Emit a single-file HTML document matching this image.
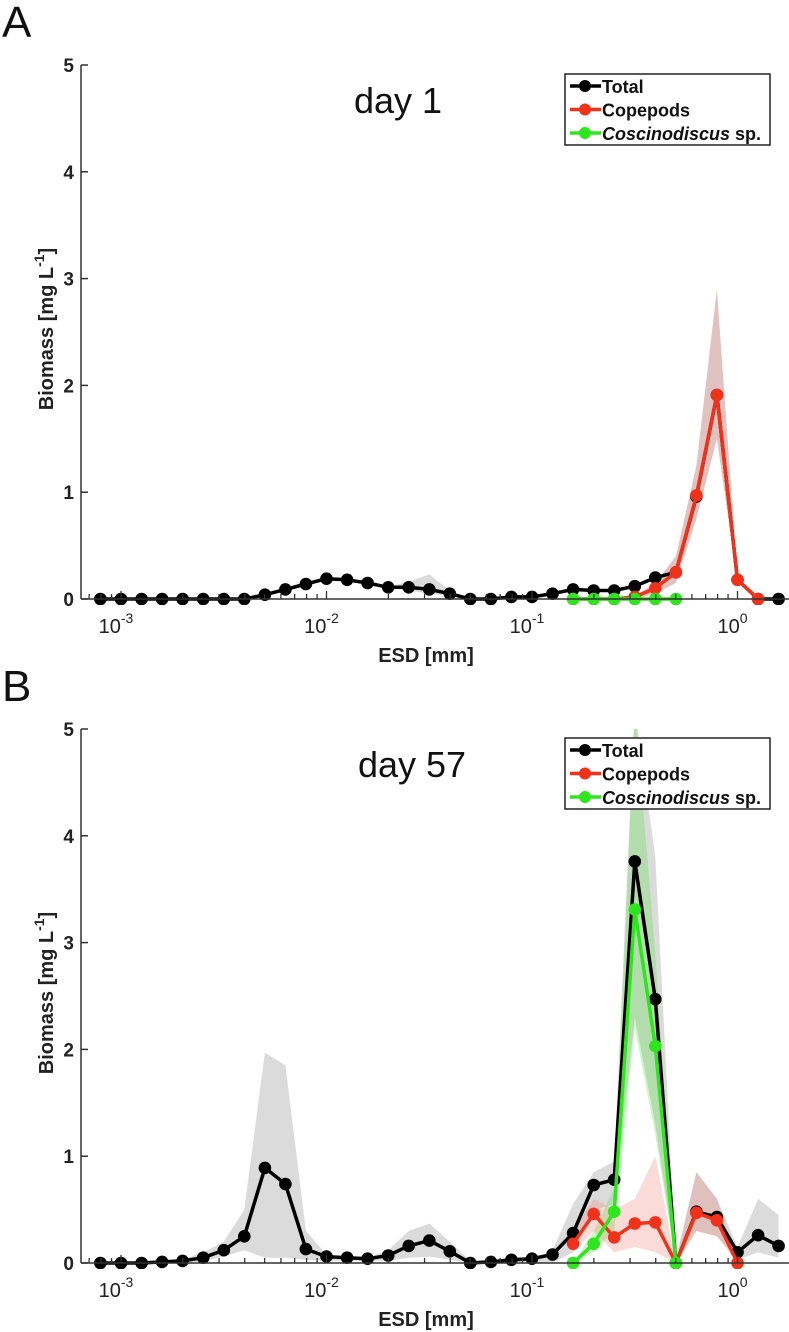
<!DOCTYPE html>
<html><head><meta charset="utf-8">
<style>
html,body{margin:0;padding:0;background:#fff;}
svg{display:block;font-family:"Liberation Sans",Arial,sans-serif;}
</style></head>
<body>
<svg id="fig" width="789" height="1332" viewBox="0 0 789 1332" xmlns="http://www.w3.org/2000/svg">
<defs>
<clipPath id="clipA"><rect x="81" y="60" width="708" height="545"/></clipPath>
<clipPath id="clipB"><rect x="81" y="729" width="708" height="540"/></clipPath>
</defs>
</svg>
<script>
// ---- data ----
const logESD = [];
for (let i = 0; i < 34; i++) logESD.push(-3.1 + 0.1 * i);
const yTicks = [0, 1, 2, 3, 4, 5];
const xTickExps = [-3, -2, -1, 0];
const _ = null;
// Panel A (day 1)
const totalA = [0,0,0,0,0,0,0,0,0.04,0.09,0.14,0.19,0.18,0.15,0.11,0.11,0.09,0.05,0,0,0.02,0.02,0.05,0.09,0.08,0.08,0.12,0.2,0.25,0.96,1.91,0.18,0,0];
const copeA = [_,_,_,_,_,_,_,_,_,_,_,_,_,_,_,_,_,_,_,_,_,_,_,0,0,0,0.02,0.1,0.25,0.97,1.91,0.18,0,_];
const coscA = [_,_,_,_,_,_,_,_,_,_,_,_,_,_,_,_,_,_,_,_,_,_,_,0,0,0,0,0,0,_,_,_,_,_];
const grayHiA = [_,_,_,_,_,_,_,_,_,_,_,_,_,0.16,0.12,0.16,0.23,0.08,0,_,_,_,_,_,_,_,_,_,_,_,_,_,_,_];
const grayLoA = [_,_,_,_,_,_,_,_,_,_,_,_,_,0.14,0.1,0.08,0.05,0.03,0,_,_,_,_,_,_,_,_,_,_,_,_,_,_,_];
const redHiA = [_,_,_,_,_,_,_,_,_,_,_,_,_,_,_,_,_,_,_,_,_,_,_,_,_,_,0.03,0.15,0.4,1.25,2.9,0.2,0,_];
const redLoA = [_,_,_,_,_,_,_,_,_,_,_,_,_,_,_,_,_,_,_,_,_,_,_,_,_,_,0,0.05,0.15,0.75,1.5,0.15,0,_];
// Panel B (day 57)
const totalB = [0,0,0,0.01,0.02,0.05,0.12,0.25,0.89,0.74,0.13,0.06,0.05,0.04,0.07,0.16,0.21,0.11,0,0.01,0.03,0.04,0.08,0.28,0.73,0.78,3.76,2.47,0,0.48,0.43,0.1,0.26,0.16];
const copeB = [_,_,_,_,_,_,_,_,_,_,_,_,_,_,_,_,_,_,_,_,_,_,_,0.18,0.46,0.24,0.37,0.38,0,0.47,0.4,0,_,_];
const coscB = [_,_,_,_,_,_,_,_,_,_,_,_,_,_,_,_,_,_,_,_,_,_,_,0,0.18,0.48,3.31,2.03,0,_,_,_,_,_];
const grayHiB = [_,_,_,_,0.03,0.1,0.2,0.5,1.97,1.85,0.3,0.08,0.06,0.05,0.12,0.3,0.37,0.2,0.02,0.03,0.03,0.03,0.12,0.55,0.85,0.95,5.2,3.8,0.05,0.85,0.6,0.15,0.6,0.45];
const grayLoB = [_,_,_,_,0,0.02,0.06,0.12,0.05,0.05,0.03,0.02,0.02,0.02,0.02,0.05,0.06,0.03,0,0,0,0,0,0.1,0.5,0.55,2.3,1.3,0,0.3,0.25,0.03,0.1,0.05];
const greenHiB = [_,_,_,_,_,_,_,_,_,_,_,_,_,_,_,_,_,_,_,_,_,_,_,0,0.3,0.7,5.2,2.9,0,_,_,_,_,_];
const greenLoB = [_,_,_,_,_,_,_,_,_,_,_,_,_,_,_,_,_,_,_,_,_,_,_,0,0.1,0.3,2.2,1.2,0,_,_,_,_,_];
const redHiB = [_,_,_,_,_,_,_,_,_,_,_,_,_,_,_,_,_,_,_,_,_,_,_,0.3,0.6,0.5,0.6,1.0,0,0.85,0.6,0,_,_];
const redLoB = [_,_,_,_,_,_,_,_,_,_,_,_,_,_,_,_,_,_,_,_,_,_,_,0.1,0.3,0.1,0.15,0.1,0,0.3,0.25,0,_,_];

const NS = "http://www.w3.org/2000/svg";
const svg = document.getElementById('fig');
const X0 = 81, XR = 789, DEC = 205.5, X3 = 121;
function xs(l){ return X3 + DEC * (l + 3); }
function mk(tag, attrs, parent){ const e = document.createElementNS(NS, tag); for (const k in attrs) e.setAttribute(k, attrs[k]); (parent||svg).appendChild(e); return e; }

function panel(cfg){
  const y0 = cfg.y0, unit = 106.8;
  const ys = v => y0 - v * unit;
  const g = mk('g', {});
  
  
  const plot = mk('g', {'clip-path': 'url(#' + cfg.clip + ')'}, g);
  function band(hi, lo, fill, nm){
    let top = [], bot = [];
    for (let i = 0; i < hi.length; i++) if (hi[i] !== null) { top.push(xs(logESD[i]).toFixed(1) + ',' + ys(hi[i]).toFixed(1)); bot.unshift(xs(logESD[i]).toFixed(1) + ',' + ys(lo[i]).toFixed(1)); }
    const p = mk('polygon', {points: top.concat(bot).join(' '), fill: fill, stroke: 'none'}, plot);
    
    
  }
  cfg.bands.forEach(b => band(b[0], b[1], b[2], b[3]));
  function series(vals, color, nm){
    const sg = mk('g', {}, plot);
    
    
    const pts = [];
    for (let i = 0; i < vals.length; i++) if (vals[i] !== null) pts.push([xs(logESD[i]), ys(vals[i])]);
    mk('polyline', {points: pts.map(p => p[0].toFixed(1) + ',' + p[1].toFixed(1)).join(' '), fill: 'none', stroke: color, 'stroke-width': 3.5, 'stroke-linejoin': 'round'}, sg);
    pts.forEach(p => { const c = mk('circle', {cx: p[0].toFixed(1), cy: p[1].toFixed(1), r: 6.3, fill: color}, sg);
      
       });
  }
  series(cfg.total, '#000', 'total-series');
  series(cfg.cope, '#f0321a', 'copepods-series');
  series(cfg.cosc, '#2ee51e', 'coscinodiscus-series');
  // axes
  const ax = mk('g', {}, g);
  
  
  mk('line', {x1: X0, y1: ys(5), x2: X0, y2: y0, stroke: '#333', 'stroke-width': 1.5}, ax);
  mk('line', {x1: X0, y1: y0, x2: XR, y2: y0, stroke: '#333', 'stroke-width': 1.5}, ax);
  yTicks.forEach(t => {
    mk('line', {x1: X0, y1: ys(t), x2: X0 + 7, y2: ys(t), stroke: '#333', 'stroke-width': 1.5}, ax);
    const tx = mk('text', {x: 74, y: ys(t) + 7, 'text-anchor': 'end', 'font-size': 19, 'font-weight': 'bold', fill: '#222'}, ax);
    tx.textContent = t;
    
    
  });
  for (let e = -4; e <= 0; e++) for (let m = 1; m < 10; m++) {
    const l = e + Math.log10(m); const x = xs(l);
    if (x < X0 || x > XR) continue;
    mk('line', {x1: x, y1: y0, x2: x, y2: y0 - (m === 1 ? 8 : 5), stroke: '#333', 'stroke-width': 1.3}, ax);
  }
  xTickExps.forEach(e => {
    const tx = mk('text', {x: xs(e) - 5, y: y0 + 34, 'text-anchor': 'middle', 'font-size': 20, fill: '#222'}, ax);
    tx.textContent = '10';
    const sup = mk('tspan', {dy: -10, 'font-size': 14}, tx);
    sup.textContent = e === 0 ? '0' : String(e);
    
    
  });
  const xt = mk('text', {x: 426, y: y0 + 63, 'text-anchor': 'middle', 'font-size': 20, 'font-weight': 'bold', fill: '#222'}, g);
  xt.textContent = 'ESD [mm]';
  
  
  const yt = mk('text', {x: 0, y: 0, transform: 'translate(53,' + (y0 - 270) + ') rotate(-90)', 'text-anchor': 'middle', 'font-size': 20, 'font-weight': 'bold', fill: '#222'}, g);
  yt.textContent = 'Biomass [mg L';
  const ys1 = mk('tspan', {dy: -9, 'font-size': 14}, yt); ys1.textContent = '-1';
  const ys2 = mk('tspan', {dy: 9}, yt); ys2.textContent = ']';
  
  
  const title = mk('text', {x: cfg.titleX, y: y0 - 486, 'text-anchor': 'middle', 'font-size': 36, fill: '#111'}, g);
  title.textContent = cfg.title;
  
  
  const pl = mk('text', {x: 2, y: y0 - 562, 'font-size': 44, fill: '#111'}, g);
  pl.textContent = cfg.letter;
  
  
  // legend
  const lg = mk('g', {}, g);
  
  
  const ly = y0 - 525;
  mk('rect', {x: 565, y: ly, width: 205, height: 71, fill: '#fff', stroke: '#222', 'stroke-width': 1.5}, lg);
  const ents = [['Total', '#000'], ['Copepods', '#f0321a'], ['Coscinodiscus', '#2ee51e']];
  ents.forEach((en, k) => {
    const cy = ly + 12 + k * 23.5;
    const eg = mk('g', {}, lg);
    
    
    mk('line', {x1: 570, y1: cy, x2: 601, y2: cy, stroke: en[1], 'stroke-width': 3.5}, eg);
    mk('circle', {cx: 585, cy: cy, r: 6, fill: en[1]}, eg);
    const t = mk('text', {x: 602, y: cy + 7, 'font-size': 18, 'font-weight': 'bold', fill: '#111'}, eg);
    if (k === 2) { const a = mk('tspan', {'font-style': 'italic'}, t); a.textContent = 'Coscinodiscus'; const b = mk('tspan', {}, t); b.textContent = ' sp.'; }
    else t.textContent = en[0];
  });
}

panel({name: 'panel-a-day1', y0: 599, clip: 'clipA', title: 'day 1', titleX: 398, letter: 'A',
  total: totalA, cope: copeA, cosc: coscA,
  bands: [[grayHiA, grayLoA, 'rgba(190,190,190,0.55)', 'total-band'], [redHiA, redLoA, 'rgba(190,120,115,0.45)', 'copepods-band']]});
panel({name: 'panel-b-day57', y0: 1263, clip: 'clipB', title: 'day 57', titleX: 412, letter: 'B',
  total: totalB, cope: copeB, cosc: coscB,
  bands: [[grayHiB, grayLoB, 'rgba(190,190,190,0.55)', 'total-band'], [greenHiB, greenLoB, 'rgba(90,225,70,0.3)', 'coscinodiscus-band'], [redHiB, redLoB, 'rgba(240,110,100,0.25)', 'copepods-band']]});
</script>
</body></html>
